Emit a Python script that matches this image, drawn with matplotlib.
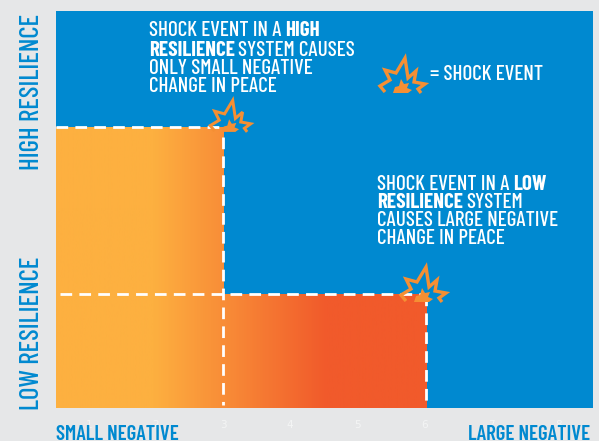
import numpy as np
import matplotlib
matplotlib.use('Agg')
import matplotlib.pyplot as plt
from matplotlib.colors import LinearSegmentedColormap
from matplotlib.patches import Polygon

# Shock event schematic: change in peace against resilience
xTicks = [1, 2, 3, 4, 5, 6, 7, 8]
shockX = [3, 6.03]
shockY = [7.08, 2.88]
xLabels = ['SMALL NEGATIVE', 'LARGE NEGATIVE']
yLabels = ['LOW RESILIENCE', 'HIGH RESILIENCE']

W, H = 599, 441
blue = '#0089D0'
grey = '#E6E7E8'
star = '#F58F33'
condensed = ['Barlow Condensed', 'Liberation Sans', 'DejaVu Sans']

starX = [-17, -22, -12, -17, -6, 3, 6, 14, 12, 23, 16, 19]
starY = [10, 4, -2, -12, -9, -24, -4, -11, 0, 2, 7, 11]
coreX = [-9, -7, -3, -1, 2, 7, 5, 10, 6]
coreY = [11, 5, 4, -3, 2, 1, 6, 8, 11]

fig = plt.figure(figsize=(W / 100, H / 100), dpi=100, facecolor=grey)
ax = fig.add_axes([56 / W, 1 - 408 / H, (593 - 56) / W, (408 - 11) / H])
ax.set_facecolor(blue)
for s in ax.spines.values():
    s.set_visible(False)
ax.set_xticks(xTicks)
ax.set_yticks([])
ax.tick_params(axis='x', length=0, colors='#F4F5F5', labelsize=7.5, pad=9)

cmap = LinearSegmentedColormap.from_list('shock', [(0, '#FDB040'), (0.26, '#FDB040'), (0.73, '#F15A2B'), (1, '#F15A2B')])
grad = np.linspace(0, 1, 400).reshape(1, -1)

# same gradient across the whole width, cut to each rectangle
for xs, ys in zip(shockX, shockY):
    im = ax.imshow(grad, extent=[0.507, 6.03, 0, 10], cmap=cmap, vmin=0, vmax=1, aspect='auto', zorder=1)
    im.set_clip_path(plt.Rectangle((0.507, 0), xs - 0.507, ys, transform=ax.transData))
ax.set_xlim(0.507, 8.52)
ax.set_ylim(0, 10)

dash = dict(color='white', lw=2, dashes=(4.2, 2.6), zorder=3)
ax.plot([0.507, shockX[0]], [shockY[0], shockY[0]], **dash)
ax.plot([shockX[0], shockX[0]], [shockY[0] - 0.25, 0.08], **dash)
ax.plot([0.57, shockX[1]], [shockY[1], shockY[1]], **dash)
ax.plot([shockX[1], shockX[1]], [shockY[1], 0.08], **dash)


def px(x, y):
    return x / W, 1 - y / H


def draw_star(cx, cy, sc):
    pts = [px(cx + a * sc, cy + b * sc) for a, b in zip(starX, starY)]
    fig.add_artist(Polygon(pts, closed=False, transform=fig.transFigure, fc='none', ec=star, lw=2.4 * sc, joinstyle='miter', zorder=5))
    pts = [px(cx + a * sc, cy + b * sc) for a, b in zip(coreX, coreY)]
    fig.add_artist(Polygon(pts, closed=True, transform=fig.transFigure, fc=star, ec='none', zorder=5))


starPx = [(230, 122, 0.9), (423, 291, 1.0), (402, 82, 1.0)]
for cx, cy, sc in starPx:
    draw_star(cx, cy, sc)


def label(x, y, parts, size=15.2):
    # parts are (text, bold) runs, laid out one after the other on a line
    r = fig.canvas.get_renderer()
    cur = x
    for txt, bold in parts:
        t = fig.text(cur / W, 1 - y / H, txt, color='white', fontsize=size, family=condensed,
                     fontweight='bold' if bold else 'medium', va='center', ha='left')
        cur = t.get_window_extent(r).x1 + 3.5


label(149, 31, [('SHOCK EVENT IN A', False), ('HIGH', True)])
label(149, 50, [('RESILIENCE', True), ('SYSTEM CAUSES', False)])
label(149, 68, [('ONLY SMALL NEGATIVE', False)])
label(149, 87, [('CHANGE IN PEACE', False)])
label(377, 184, [('SHOCK EVENT IN A', False), ('LOW', True)])
label(377, 202, [('RESILIENCE', True), ('SYSTEM', False)])
label(377, 220, [('CAUSES LARGE NEGATIVE', False)])
label(377, 239, [('CHANGE IN PEACE', False)])
label(430, 74, [('= SHOCK EVENT', False)])

fig.text(56 / W, 1 - 434 / H, xLabels[0], color=blue, fontsize=15, family=condensed, fontweight='semibold', va='center', ha='left')
fig.text(590 / W, 1 - 434 / H, xLabels[1], color=blue, fontsize=15, family=condensed, fontweight='semibold', va='center', ha='right')
fig.text(32 / W, 1 - 410 / H, yLabels[0], color=blue, fontsize=19.5, family=condensed, fontweight='medium', rotation=90, va='bottom', ha='center')
fig.text(32 / W, 1 - 170 / H, yLabels[1], color=blue, fontsize=19.5, family=condensed, fontweight='medium', rotation=90, va='bottom', ha='center')

fig.savefig('out.png', dpi=100, facecolor=grey)
